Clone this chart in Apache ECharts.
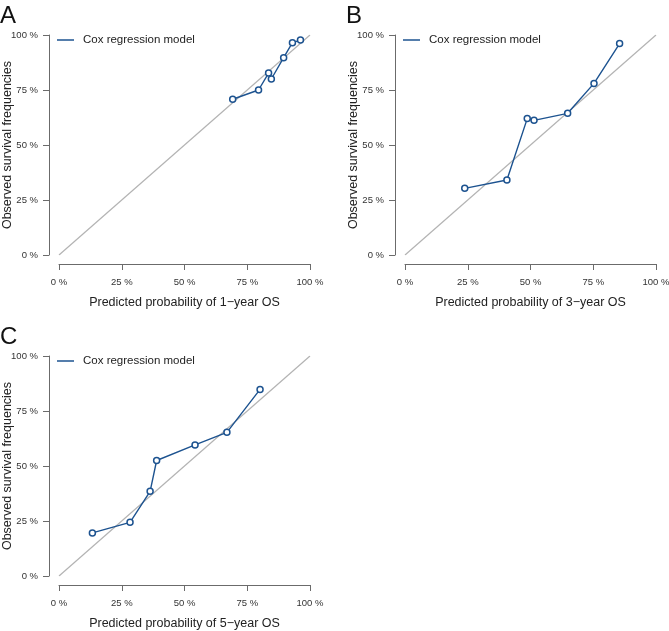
<!DOCTYPE html>
<html><head><meta charset="utf-8">
<script src="https://cdn.jsdelivr.net/npm/echarts@6/dist/echarts.min.js"></script>
<style>html,body{margin:0;padding:0;background:#fff}#c{width:669px;height:631px}</style>
</head><body><div id="c"></div>
<script>
const seriesName = 'Cox regression model';
const tickValues = [0, 25, 50, 75, 100];
const panelLetters = ['A', 'B', 'C'];
const xTitles = ['Predicted probability of 1\u2212year OS', 'Predicted probability of 3\u2212year OS', 'Predicted probability of 5\u2212year OS'];
const yTitle = 'Observed survival frequencies';
const refLine = [[0, 0], [100, 100]];
const predA = [69.2, 79.5, 83.5, 84.6, 89.5, 93.0, 96.2];
const obsA  = [70.8, 75.0, 82.7, 80.0, 89.7, 96.5, 97.7];
const predB = [23.8, 40.6, 48.7, 51.4, 64.8, 75.3, 85.5];
const obsB  = [30.3, 34.1, 62.0, 61.2, 64.4, 78.0, 96.1];
const predC = [13.3, 28.3, 36.3, 38.9, 54.2, 66.9, 80.1];
const obsC  = [19.6, 24.4, 38.5, 52.5, 59.6, 65.3, 84.8];

const panels = [
  {pred: predA, obs: obsA, left: 59, top: 35},
  {pred: predB, obs: obsB, left: 405, top: 35},
  {pred: predC, obs: obsC, left: 59, top: 356}
];
const W = 251, H = 220;
const FONT = '"Liberation Sans", Arial, sans-serif';
const axisCol = '#6b6b6b';
const blue = '#1d5390';

const grid = [], xAxis = [], yAxis = [], series = [], legend = [], titles = [];
panels.forEach((p, i) => {
  grid.push({left: p.left, top: p.top, width: W, height: H, containLabel: false, outerBoundsMode: 'none'});
  const common = {
    min: 0, max: 100, interval: 25, gridIndex: i,
    axisLine: {show: true, onZero: false, lineStyle: {color: axisCol, width: 1}},
    axisTick: {show: true, length: 6, lineStyle: {color: axisCol}},
    splitLine: {show: false},
    axisLabel: {formatter: v => v + ' %', fontFamily: FONT, fontSize: 9.5, color: '#333', margin: 13},
    nameLocation: 'middle', nameMoveOverlap: false,
    nameTextStyle: {fontFamily: FONT, fontSize: 12.5, color: '#222'}
  };
  xAxis.push(Object.assign({}, common, {type: 'value', position: 'bottom', offset: 9, name: xTitles[i], nameGap: 32}));
  yAxis.push(Object.assign({}, common, {type: 'value', position: 'left', offset: 10,
    axisLabel: Object.assign({}, common.axisLabel, {margin: 11}), name: yTitle, nameGap: 35}));
  series.push({
    type: 'line', name: 'diag' + i, xAxisIndex: i, yAxisIndex: i, data: refLine,
    symbol: 'none', silent: true, lineStyle: {color: '#b3b3b3', width: 1.2}, z: 1
  });
  series.push({
    type: 'line', name: seriesName, xAxisIndex: i, yAxisIndex: i,
    data: p.pred.map((x, k) => [x, p.obs[k]]),
    symbol: 'circle', symbolSize: 6,
    itemStyle: {color: '#fff', borderColor: blue, borderWidth: 1.5},
    lineStyle: {color: blue, width: 1.4}, z: 3
  });
  legend.push({
    left: p.left - 2, top: p.top - 1, orient: 'vertical', padding: 0,
    data: [{name: seriesName, icon: 'rect', itemStyle: {color: blue, borderWidth: 0}}],
    itemWidth: 17, itemHeight: 1.5,
    textStyle: {fontFamily: FONT, fontSize: 11.5, color: '#222', padding: [0, 0, 0, 4]},
    selectedMode: false
  });
  titles.push({text: panelLetters[i], left: p.left - 59, top: p.top - 31, padding: 0,
    textStyle: {fontFamily: FONT, fontSize: 24, fontWeight: 'normal', color: '#111'}});
});

const chart = echarts.init(document.getElementById('c'), null, {renderer: 'canvas'});
chart.setOption({
  animation: false, backgroundColor: '#fff',
  title: titles, grid, xAxis, yAxis, series, legend
});
</script></body></html>
